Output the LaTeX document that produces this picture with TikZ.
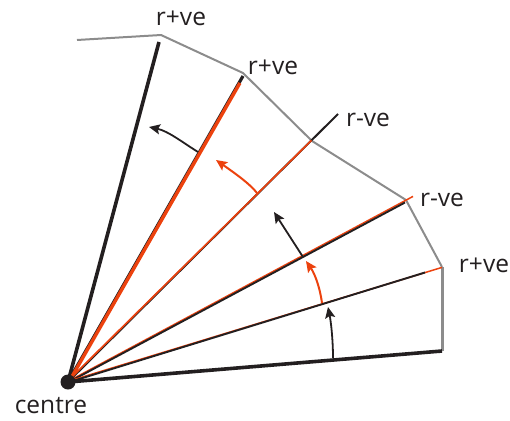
\documentclass[tikz,border=0pt]{standalone}
\usepackage{fontspec}
\setmainfont{Open Sans}
\usetikzlibrary{arrows.meta}
\definecolor{ink}{RGB}{35,31,32}
\definecolor{orng}{RGB}{236,66,14}
\definecolor{edge}{RGB}{140,140,140}
\tikzset{
  lbl/.style={font=\fontsize{24.5}{28}\selectfont, text=ink, inner sep=0pt},
  raythick/.style={draw=ink, line width=3.6pt},
  rim/.style={draw=edge, line width=2pt},
  bkarrow/.style={draw=ink, line width=1.8pt, -{Stealth[length=11pt,width=10pt,inset=2pt]}},
  orarrow/.style={draw=orng, line width=2pt, -{Stealth[length=11pt,width=10pt,inset=2pt]}}
}
\begin{document}
\begin{tikzpicture}[x=1pt,y=-1pt]
\useasboundingbox (0,0) rectangle (510,420);
% coordinates
\coordinate (c) at (68,382);
\coordinate (e1) at (159,42);
\coordinate (e2) at (243,76);
\coordinate (e2o) at (239,83);
\coordinate (e3) at (338,114);
\coordinate (e3o) at (312,141);
\coordinate (e4) at (413,197);
\coordinate (e4b) at (405,202);
\coordinate (e5) at (442,268);
\coordinate (e5b) at (425,272);
\coordinate (e6) at (442,351);
% rim
\coordinate (g0) at (77,40);
\coordinate (g1) at (161,35);
\coordinate (g2) at (243,73);
\coordinate (g3) at (312,141);
\coordinate (g4) at (406,200);
\coordinate (g5) at (442,267);
\draw[rim, line join=round] (g0) -- (g1) -- (g2) -- (g3) -- (g4) -- (g5);
\draw[draw=edge, line width=3pt] (g5) -- (e6);
% rays
\draw[raythick] (c) -- (e1);
\draw[draw=ink, line width=3.2pt] (c) -- (e2);
\draw[draw=orng, line width=3.4pt] ([xshift=0.9pt]c) -- ([xshift=0.9pt]e2o);
\draw[draw=ink, line width=2pt] (c) -- (e3);
\draw[draw=orng, line width=1.7pt] ([shift={(-0.6,-0.6)}]c) -- ([shift={(-0.6,-0.6)}]e3o);
\draw[draw=orng, line width=1.5pt] ([yshift=0.6pt]c) -- ([yshift=0.6pt]e4);
\draw[draw=ink, line width=1.9pt] ([yshift=-0.5pt]c) -- ([yshift=-0.5pt]e4b);
\draw[draw=orng, line width=1.5pt] ([yshift=0.6pt]c) -- ([yshift=0.6pt]e5);
\draw[draw=ink, line width=1.9pt] ([yshift=-0.5pt]c) -- ([yshift=-0.5pt]e5b);
\draw[raythick] (c) -- (e6);
\node[circle, fill=ink, minimum size=15pt, inner sep=0pt] (centre) at (c) {};
% arrows
\coordinate (a1s) at (198,152); \coordinate (a1t) at (149,127);
\draw[bkarrow] (a1s) .. controls (182,142) and (168,131) .. (a1t);
\coordinate (a2s) at (257,193); \coordinate (a2t) at (216,160);
\draw[orarrow] (a2s) .. controls (250,184) and (236,174) .. (a2t);
\coordinate (a3s) at (303,257); \coordinate (a3t) at (274,212);
\draw[bkarrow] (a3s) -- (a3t);
\coordinate (a4s) at (322,303); \coordinate (a4t) at (306,261);
\draw[orarrow] (a4s) .. controls (320,288) and (315,274) .. (a4t);
\coordinate (a5s) at (333,358); \coordinate (a5t) at (328,307);
\draw[bkarrow] (a5s) .. controls (333,340) and (331,322) .. (a5t);
% labels
\node[lbl] (l1) at (181,18) {r+ve};
\node[lbl] (l2) at (273,67) {r+ve};
\node[lbl] (l3) at (368,120) {r-ve};
\node[lbl] (l4) at (442,200) {r-ve};
\node[lbl] (l5) at (484,265) {r+ve};
\node[lbl] (l6) at (51,406) {centre};
\end{tikzpicture}
\end{document}
